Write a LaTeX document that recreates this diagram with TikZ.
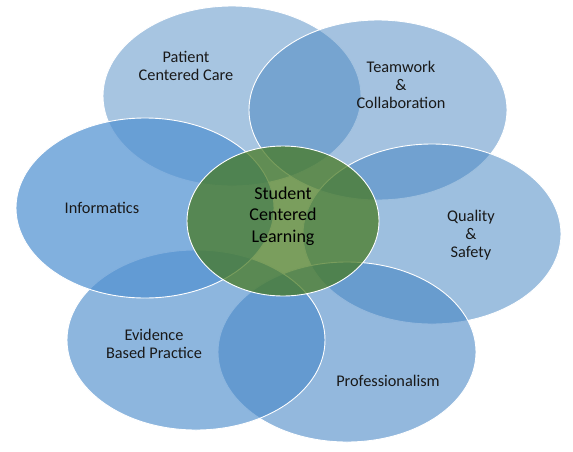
\documentclass[tikz,border=0pt]{standalone}
\usepackage{fontspec}
\setmainfont{Carlito}
\usetikzlibrary{shapes.geometric}
\definecolor{cpat}{RGB}{64,128,190}
\definecolor{cteam}{RGB}{64,128,190}
\definecolor{cqual}{RGB}{67,132,193}
\definecolor{cprof}{RGB}{62,128,194}
\definecolor{cevid}{RGB}{71,137,202}
\definecolor{cinfo}{RGB}{81,145,209}
\definecolor{cgreen}{RGB}{70,120,30}
\definecolor{ctext}{RGB}{25,25,25}
\tikzset{
  petal/.style={ellipse, draw=white, line width=0.9pt,
    minimum width=258pt, minimum height=180pt, inner sep=0pt},
  hub/.style={ellipse, draw=white, line width=0.9pt, fill=cgreen, fill opacity=0.72,
    minimum width=192pt, minimum height=150pt, inner sep=0pt},
  petaltext/.style={align=center, text=ctext, inner sep=0pt,
    font=\fontsize{16.3}{18}\selectfont},
  hubtext/.style={align=center, text=black, inner sep=0pt,
    font=\fontsize{18}{21.5}\selectfont}
}
\begin{document}
\begin{tikzpicture}[x=1pt,y=-1pt]
\useasboundingbox (0,0) rectangle (573,451);
\node[petal, fill=cpat,  fill opacity=0.46] (pcc)  at (232,96)  {};
\node[petal, fill=cteam, fill opacity=0.48] (team) at (378,110) {};
\node[petal, fill=cqual, fill opacity=0.52] (qual) at (432,234) {};
\node[petal, fill=cprof, fill opacity=0.56] (prof) at (347,352) {};
\node[petal, fill=cevid, fill opacity=0.62] (evid) at (196,340) {};
\node[petal, fill=cinfo, fill opacity=0.72] (info) at (145,208) {};
\node[hub] (scl) at (283,221) {};
\node[petaltext] (tpcc)  at (186,66)  {Patient\\Centered Care};
\node[petaltext] (tteam) at (401,85)  {Teamwork\\\&\\Collaboration};
\node[petaltext] (tqual) at (471,235) {Quality\\\&\\Safety};
\node[petaltext] (tprof) at (388,381) {Professionalism};
\node[petaltext] (tevid) at (154,344) {Evidence\\Based Practice};
\node[petaltext] (tinfo) at (102,208) {Informatics};
\node[hubtext]   (tscl)  at (283,216) {Student\\Centered\\Learning};
\end{tikzpicture}
\end{document}
